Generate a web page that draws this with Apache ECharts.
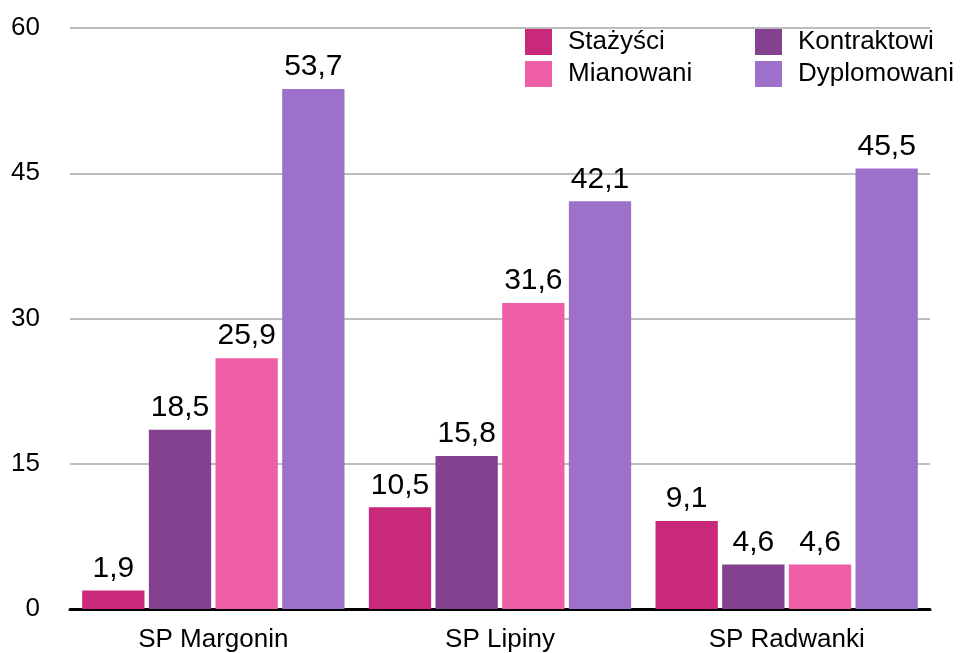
<!DOCTYPE html>
<html>
<head>
    <meta charset="utf-8">
    <title>ECharts</title>
    <script src="https://cdn.jsdelivr.net/npm/echarts@6/dist/echarts.min.js"></script>
    <style type="text/css">
    html, body { margin: 0; padding: 0; background: #fff; }
    </style>
</head>
<body>
    <div id="main" style="width: 960px;height:653px;"></div>
    <script type="text/javascript">
        // kategorie (szkoły)
        var categories = ['SP Margonin', 'SP Lipiny', 'SP Radwanki'];
        // serie: stopnie awansu zawodowego (%)
        var stazysci = [1.9, 10.5, 9.1];
        var kontraktowi = [18.5, 15.8, 4.6];
        var mianowani = [25.9, 31.6, 4.6];
        var dyplomowani = [53.7, 42.1, 45.5];
        var yTicks = [0, 15, 30, 45, 60];

        var font = '"Liberation Sans", Arial, sans-serif';

        function makeSeries(name, data, color) {
            return {
                name: name,
                type: 'bar',
                data: data,
                barGap: '7%',
                barCategoryGap: '8.5%',
                itemStyle: { color: color },
                label: {
                    show: true,
                    position: 'top',
                    distance: 7,
                    color: '#000',
                    fontSize: 30,
                    fontFamily: font,
                    formatter: function (p) { return String(p.value).replace('.', ','); }
                }
            };
        }

        var myChart = echarts.init(document.getElementById('main'));
        var legendText = { fontSize: 26, fontFamily: font, color: '#000', padding: [0, 0, 0, 11] };
        var option = {
            animation: false,
            grid: { left: 70, right: 30, top: 28, bottom: 43 },
            legend: [{
                data: ['Stażyści', 'Mianowani'],
                orient: 'vertical',
                left: 520, top: 24,
                itemWidth: 27, itemHeight: 26, itemGap: 6,
                icon: 'rect',
                textStyle: legendText
            }, {
                data: ['Kontraktowi', 'Dyplomowani'],
                orient: 'vertical',
                left: 750, top: 24,
                itemWidth: 27, itemHeight: 26, itemGap: 6,
                icon: 'rect',
                textStyle: legendText
            }],
            xAxis: {
                type: 'category',
                data: categories,
                axisTick: { show: false },
                axisLine: { lineStyle: { color: '#000', width: 3 } },
                axisLabel: { color: '#000', fontSize: 26, fontFamily: font, margin: 18 }
            },
            yAxis: {
                type: 'value',
                min: yTicks[0],
                max: yTicks[yTicks.length - 1],
                interval: 15,
                axisLabel: { color: '#000', fontSize: 26, fontFamily: font, margin: 30 },
                splitLine: { lineStyle: { color: '#bdbdbd', width: 2 } }
            },
            series: [
                makeSeries('Stażyści', stazysci, '#C9297B'),
                makeSeries('Kontraktowi', kontraktowi, '#84418F'),
                makeSeries('Mianowani', mianowani, '#EF5FA7'),
                makeSeries('Dyplomowani', dyplomowani, '#9D71C9')
            ]
        };
        myChart.setOption(option);
    </script>
</body>
</html>
